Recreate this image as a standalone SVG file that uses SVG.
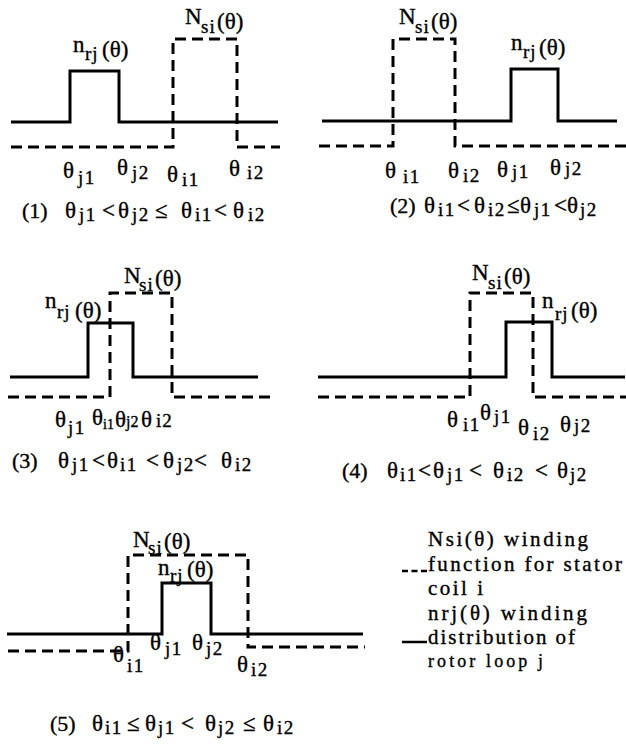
<svg xmlns="http://www.w3.org/2000/svg" width="626" height="744" viewBox="0 0 626 744">
<style>
  .s{fill:none;stroke:#000;stroke-width:3;stroke-linejoin:miter}
  .d{fill:none;stroke:#000;stroke-width:3;stroke-dasharray:11 6}
  .ls{fill:none;stroke:#000;stroke-width:2.5}
  .ld{fill:none;stroke:#000;stroke-width:2.5;stroke-dasharray:6 3.5}
  text{font-family:"Liberation Serif","Times New Roman",serif;fill:#000;stroke:#000;stroke-width:0.35;font-size:23px}
  .sb{font-size:19px;letter-spacing:1.5px}
  .sm{font-size:19px;letter-spacing:1px}
  .sx{font-size:16px}
  .tiny{font-size:14px}
  .p{font-size:22px}
  .lg{font-size:21px}
  .lg2{font-size:18px}
</style>
<rect width="626" height="744" fill="#fff"/>

<g id="panel1">
  <path class="s" d="M11,122 H70 V71 H119 V122 H278"/>
  <path class="d" d="M11,147 H173 V39 H237 V147 H280"/>
  <text><tspan x="73" y="52">n</tspan><tspan class="sm" x="85" y="60">rj</tspan><tspan x="102" y="57">(θ)</tspan></text>
  <text><tspan x="185" y="24">N</tspan><tspan class="sm" x="201" y="33">si</tspan><tspan x="217" y="29">(θ)</tspan></text>
  <text><tspan x="63" y="178">θ</tspan><tspan class="sb" x="78" y="184">j1</tspan>
    <tspan x="117" y="175">θ</tspan><tspan class="sb" x="132" y="179">j2</tspan>
    <tspan x="167" y="182">θ</tspan><tspan class="sb" x="182" y="186">i1</tspan>
    <tspan x="229" y="176">θ</tspan><tspan class="sb" x="247" y="179">i2</tspan></text>
  <text><tspan class="p" x="22" y="218">(1)</tspan>
    <tspan x="65" y="218">θ</tspan><tspan class="sb" x="79" y="221">j1</tspan>
    <tspan x="102" y="218">&lt;</tspan>
    <tspan x="118" y="218">θ</tspan><tspan class="sb" x="132" y="221">j2</tspan>
    <tspan x="155" y="218">≤</tspan>
    <tspan x="181" y="218">θ</tspan><tspan class="sb" x="195" y="221">i1</tspan>
    <tspan x="214" y="218">&lt;</tspan>
    <tspan x="233" y="218">θ</tspan><tspan class="sb" x="248" y="221">i2</tspan></text>
</g>

<g id="panel2">
  <path class="s" d="M322,121 H511 V69 H558 V121 H617"/>
  <path class="d" d="M319,146 H393 V39 H455 V146 H626"/>
  <text><tspan x="399" y="24">N</tspan><tspan class="sm" x="415" y="33">si</tspan><tspan x="431" y="29">(θ)</tspan></text>
  <text><tspan x="511" y="50">n</tspan><tspan class="sm" x="523" y="58">rj</tspan><tspan x="539" y="55">(θ)</tspan></text>
  <text><tspan x="385" y="178">θ</tspan><tspan class="sb" x="403" y="183">i1</tspan>
    <tspan x="448" y="178">θ</tspan><tspan class="sb" x="463" y="182">i2</tspan>
    <tspan x="497" y="177">θ</tspan><tspan class="sb" x="512" y="178">j1</tspan>
    <tspan x="550" y="175">θ</tspan><tspan class="sb" x="565" y="175">j2</tspan></text>
  <text><tspan class="p" x="390" y="213">(2)</tspan>
    <tspan x="424" y="213">θ</tspan><tspan class="sb" x="438" y="216">i1</tspan>
    <tspan x="457" y="213">&lt;</tspan>
    <tspan x="474" y="213">θ</tspan><tspan class="sb" x="488" y="216">i2</tspan>
    <tspan x="507" y="213">≤</tspan>
    <tspan x="520" y="213">θ</tspan><tspan class="sb" x="534" y="216">j1</tspan>
    <tspan x="554" y="213">&lt;</tspan>
    <tspan x="567" y="213">θ</tspan><tspan class="sb" x="580" y="216">j2</tspan></text>
</g>

<g id="panel3">
  <path class="s" d="M10,377 H88 V323 H133 V377 H258"/>
  <path class="d" d="M8,397 H110 V293 H172 V397 H275"/>
  <text><tspan x="124" y="283">N</tspan><tspan class="sm" x="139" y="291">si</tspan><tspan x="155" y="286">(θ)</tspan></text>
  <text><tspan x="45" y="308">n</tspan><tspan class="sm" x="57" y="318">rj</tspan><tspan x="75" y="318">(θ)</tspan></text>
  <text><tspan x="55" y="427">θ</tspan><tspan class="sb" x="68" y="434">j1</tspan>
    <tspan x="92" y="425">θ</tspan><tspan class="tiny" x="103" y="429">i1</tspan>
    <tspan x="115" y="427">θ</tspan><tspan class="sx" x="126" y="427">j2</tspan>
    <tspan x="141" y="427">θ</tspan><tspan class="sm" x="156" y="427">i2</tspan></text>
  <text><tspan class="p" x="12" y="468">(3)</tspan>
    <tspan x="58" y="468">θ</tspan><tspan class="sb" x="72" y="471">j1</tspan>
    <tspan x="92" y="468">&lt;</tspan>
    <tspan x="107" y="468">θ</tspan><tspan class="sb" x="120" y="471">i1</tspan>
    <tspan x="146" y="468">&lt;</tspan>
    <tspan x="163" y="468">θ</tspan><tspan class="sb" x="177" y="471">j2</tspan>
    <tspan x="194" y="468">&lt;</tspan>
    <tspan x="221" y="468">θ</tspan><tspan class="sb" x="235" y="471">i2</tspan></text>
</g>

<g id="panel4">
  <path class="s" d="M318,377 H506 V322 H552 V377 H625"/>
  <path class="d" d="M318,397 H470 V293 H533 V397 H626"/>
  <text><tspan x="472" y="280">N</tspan><tspan class="sm" x="488" y="289">si</tspan><tspan x="504" y="284">(θ)</tspan></text>
  <text><tspan x="542" y="308">n</tspan><tspan class="sm" x="555" y="320">rj</tspan><tspan x="571" y="318">(θ)</tspan></text>
  <text><tspan x="447" y="427">θ</tspan><tspan class="sb" x="463" y="431">i1</tspan>
    <tspan x="480" y="420">θ</tspan><tspan class="sb" x="494" y="423">j1</tspan>
    <tspan x="518" y="435">θ</tspan><tspan class="sb" x="533" y="440">i2</tspan>
    <tspan x="560" y="432">θ</tspan><tspan class="sb" x="574" y="432">j2</tspan></text>
  <text><tspan class="p" x="342" y="478">(4)</tspan>
    <tspan x="387" y="478">θ</tspan><tspan class="sb" x="400" y="481">i1</tspan>
    <tspan x="418" y="478">&lt;</tspan>
    <tspan x="433" y="478">θ</tspan><tspan class="sb" x="447" y="481">j1</tspan>
    <tspan x="469" y="478">&lt;</tspan>
    <tspan x="493" y="478">θ</tspan><tspan class="sb" x="507" y="481">i2</tspan>
    <tspan x="535" y="478">&lt;</tspan>
    <tspan x="557" y="478">θ</tspan><tspan class="sb" x="570" y="481">j2</tspan></text>
</g>

<g id="panel5">
  <path class="s" d="M7,634 H162 V583 H211 V634 H363"/>
  <path class="d" d="M8,651 H128 V555 H248 V647 H365"/>
  <text><tspan x="133" y="547">N</tspan><tspan class="sm" x="148" y="554">si</tspan><tspan x="164" y="549">(θ)</tspan></text>
  <text><tspan x="158" y="575">n</tspan><tspan class="sm" x="170" y="582">rj</tspan><tspan x="187" y="577">(θ)</tspan></text>
  <text><tspan x="113" y="662">θ</tspan><tspan class="sb" x="127" y="672">i1</tspan>
    <tspan x="150" y="650">θ</tspan><tspan class="sb" x="165" y="655">j1</tspan>
    <tspan x="192" y="650">θ</tspan><tspan class="sb" x="206" y="655">j2</tspan>
    <tspan x="237" y="672">θ</tspan><tspan class="sb" x="251" y="676">i2</tspan></text>
  <text><tspan class="p" x="50" y="731">(5)</tspan>
    <tspan x="92" y="731">θ</tspan><tspan class="sb" x="105" y="734">i1</tspan>
    <tspan x="127" y="731">≤</tspan>
    <tspan x="145" y="731">θ</tspan><tspan class="sb" x="158" y="734">j1</tspan>
    <tspan x="181" y="731">&lt;</tspan>
    <tspan x="205" y="731">θ</tspan><tspan class="sb" x="218" y="734">j2</tspan>
    <tspan x="243" y="731">≤</tspan>
    <tspan x="263" y="731">θ</tspan><tspan class="sb" x="277" y="734">i2</tspan></text>
</g>

<g id="legend">
  <path class="ld" d="M402,571 H427"/>
  <path class="ls" d="M402,642 H427"/>
  <text class="lg" x="428" y="546" textLength="160" lengthAdjust="spacing">Nsi(θ) winding</text>
  <text class="lg" x="428" y="571" textLength="194" lengthAdjust="spacing">function for stator</text>
  <text class="lg" x="428" y="595" textLength="55" lengthAdjust="spacing">coil i</text>
  <text class="lg" x="428" y="620" textLength="159" lengthAdjust="spacing">nrj(θ) winding</text>
  <text class="lg" x="428" y="644" textLength="147" lengthAdjust="spacing">distribution of</text>
  <text class="lg2" x="428" y="667" textLength="115" lengthAdjust="spacing">rotor loop j</text>
</g>
</svg>
